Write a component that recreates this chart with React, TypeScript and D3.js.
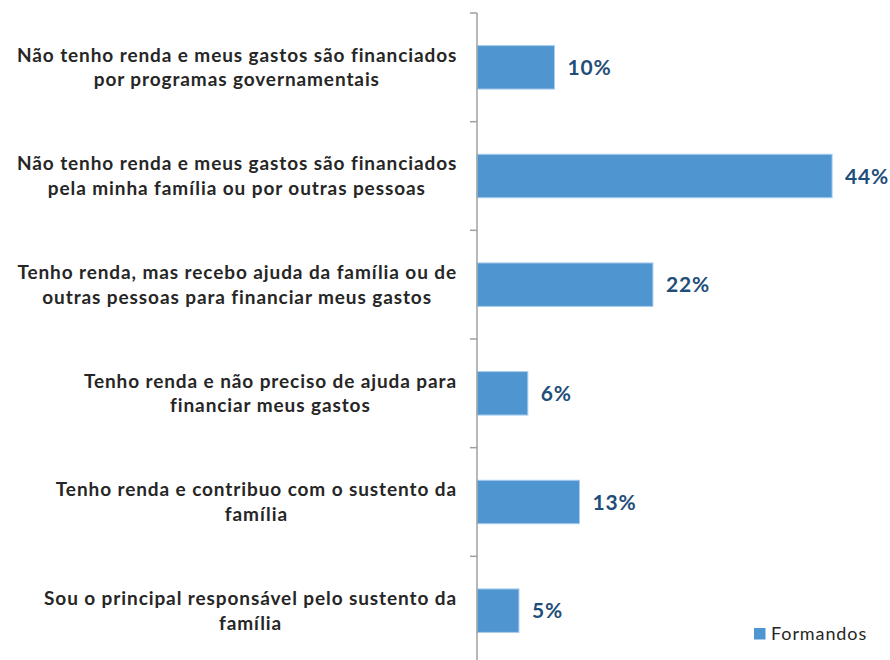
import React from 'react';
import * as d3 from 'd3';

const categories = [
  'Não tenho renda e meus gastos são financiados|por programas governamentais',
  'Não tenho renda e meus gastos são financiados|pela minha família ou por outras pessoas',
  'Tenho renda, mas recebo ajuda da família ou de|outras pessoas para financiar meus gastos',
  'Tenho renda e não preciso de ajuda para|financiar meus gastos',
  'Tenho renda e contribuo com o sustento da|família',
  'Sou o principal responsável pelo sustento da|família',
];
const formandos = [9.6, 44.0, 21.8, 6.3, 12.7, 5.2];
const seriesName = 'Formandos';

const width = 890;
const height = 660;
const axisX = 477;
const labelRight = 457;
const catSize = 19;
const catSpacing = 0.9;
const catFont = `bold ${catSize}px Lato`;

let ctx: CanvasRenderingContext2D | null = null;
const measure = (s: string, font: string, spacing: number) => {
  if (!ctx) ctx = document.createElement('canvas').getContext('2d');
  if (!ctx) return s.length * 10;
  ctx.font = font;
  return ctx.measureText(s).width + spacing * s.length;
};

const App = () => {
  const x = d3.scaleLinear().domain([0, 50]).range([axisX, 880.5]);
  const y = d3.scaleBand<string>()
    .domain(categories)
    .range([13, 665])
    .paddingInner(0.6)
    .paddingOuter(0.3);
  const gap = (y.step() - y.bandwidth()) / 2;
  const tickYs = categories.map(c => (y(c) ?? 0) - gap).concat([665]);

  return (
    <svg width={width} height={height}
      style={{ position: 'absolute', left: 0, top: 0, display: 'block', background: '#fff' }}>
      {/* bars */}
      {categories.map((c, i) => (
        <rect key={c} x={x(0)} y={y(c)} width={x(formandos[i]) - x(0)} height={y.bandwidth()}
          fill="#4f96d1" stroke="#a9cdee" strokeWidth={1} />
      ))}

      {/* axis */}
      <line x1={axisX} x2={axisX} y1={13} y2={665} stroke="#a0a0a0" strokeWidth={1.5} />
      {tickYs.map((t, i) => (
        <line key={i} x1={axisX - 7} x2={axisX} y1={t} y2={t} stroke="#a0a0a0" strokeWidth={1.5} />
      ))}

      {/* category labels, centred lines in a right-aligned block */}
      {categories.map(c => {
        const lines = c.split('|');
        const w = d3.max(lines, l => measure(l, catFont, catSpacing)) ?? 0;
        const cy = (y(c) ?? 0) + y.bandwidth() / 2;
        return (
          <text key={c} fontFamily="Lato" fontWeight="bold" fontSize={catSize}
            letterSpacing={catSpacing} fill="#262626">
            {lines.map((l, j) => {
              const lw = measure(l, catFont, catSpacing);
              const lx = labelRight - w / 2 - lw / 2;
              return (
                <tspan key={j} x={lx} y={cy + (j - (lines.length - 1) / 2) * 24.5} dy="0.35em">{l}</tspan>
              );
            })}
          </text>
        );
      })}

      {/* value labels */}
      {categories.map((c, i) => (
        <text key={c} x={x(formandos[i]) + 13} y={(y(c) ?? 0) + y.bandwidth() / 2} dy="0.36em"
          fontFamily="Lato" fontWeight="bold" fontSize={21} letterSpacing={0.8} fill="#1f4e79">
          {d3.format('.0f')(formandos[i])}%
        </text>
      ))}

      {/* legend */}
      <rect x={754} y={628} width={11.5} height={11.5} fill="#4f96d1" />
      <text x={771} y={640} fontFamily="Lato" fontSize={18} letterSpacing={0.9} fill="#262626">{seriesName}</text>
    </svg>
  );
};

export default App;
